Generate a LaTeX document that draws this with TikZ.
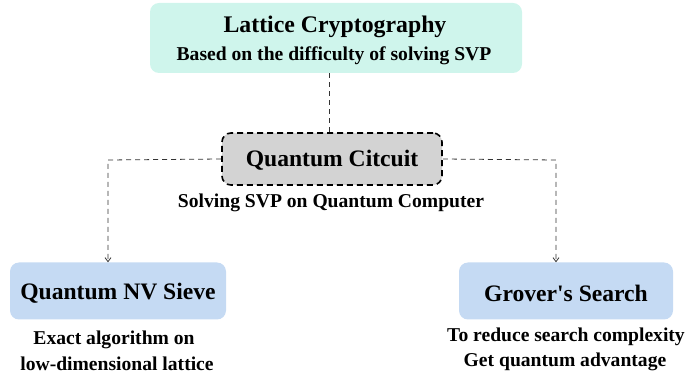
\documentclass[tikz,border=0pt]{standalone}
\usepackage{fontspec}
\setmainfont{Liberation Serif}
\newfontfamily\plainquote{Liberation Serif}[Ligatures=TeXOff]
\usetikzlibrary{arrows.meta}
\definecolor{mint}{HTML}{CFF5EC}
\definecolor{cgray}{HTML}{D3D3D3}
\definecolor{cblue}{HTML}{C5DAF3}
\begin{document}
\begin{tikzpicture}[x=1pt,y=-1pt,
  box/.style={rounded corners=9pt, inner sep=0pt, font=\bfseries\fontsize{23.6}{27}\selectfont},
  conn/.style={line width=0.8pt, draw=black!80, dash pattern=on 5pt off 4pt},
  sub/.style={font=\bfseries\fontsize{19.6}{23}\selectfont, align=center, inner sep=0pt}]
\useasboundingbox (0,0) rectangle (686,379);
\node[box, fill=mint, minimum width=372pt, minimum height=70pt] (top) at (336,38) {};
\node[font=\bfseries\fontsize{23.8}{27}\selectfont, inner sep=0pt] (toptitle) at (335,27) {Lattice Cryptography};
\node[sub] (topsub) at (334,56) {Based on the difficulty of solving SVP};
\node[box, fill=cgray, draw=black, line width=1.6pt, dash pattern=on 6pt off 4pt, minimum width=220pt, minimum height=52pt] (mid) at (332,159) {};
\node[font=\bfseries\fontsize{23.6}{27}\selectfont, inner sep=0pt] (midtext) at (332,160) {Quantum Citcuit};
\node[sub] (midsub) at (331,203) {Solving SVP on Quantum Computer};
\node[box, fill=cblue, minimum width=216pt, minimum height=57pt] (left) at (118,291) {};
\node[font=\bfseries\fontsize{23.6}{27}\selectfont, inner sep=0pt] (lefttext) at (118,293) {Quantum NV Sieve};
\node[box, fill=cblue, minimum width=214pt, minimum height=57pt] (right) at (566,291) {};
\node[font=\bfseries\fontsize{23.6}{27}\selectfont, inner sep=0pt] (righttext) at (566,293) {Grover{\plainquote\char"27}s Search};
\node[sub] (leftsub1) at (114,340) {Exact algorithm on};
\node[sub] (leftsub2) at (117,364) {low-dimensional lattice};
\node[sub] (rightsub1) at (566,337) {To reduce search complexity};
\node[sub] (rightsub2) at (565,362) {Get quantum advantage};
\coordinate (lc) at (108,160);
\coordinate (rc) at (556,160);
\draw[conn] (top.south -| 329,0) -- (mid.north -| 329,0);
\draw[conn, -{Straight Barb[length=4pt,width=6pt]}] (mid.west) -- (lc) -- (lc |- left.north);
\draw[conn, -{Straight Barb[length=4pt,width=6pt]}] (mid.east) -- (rc) -- (rc |- right.north);
\end{tikzpicture}
\end{document}
